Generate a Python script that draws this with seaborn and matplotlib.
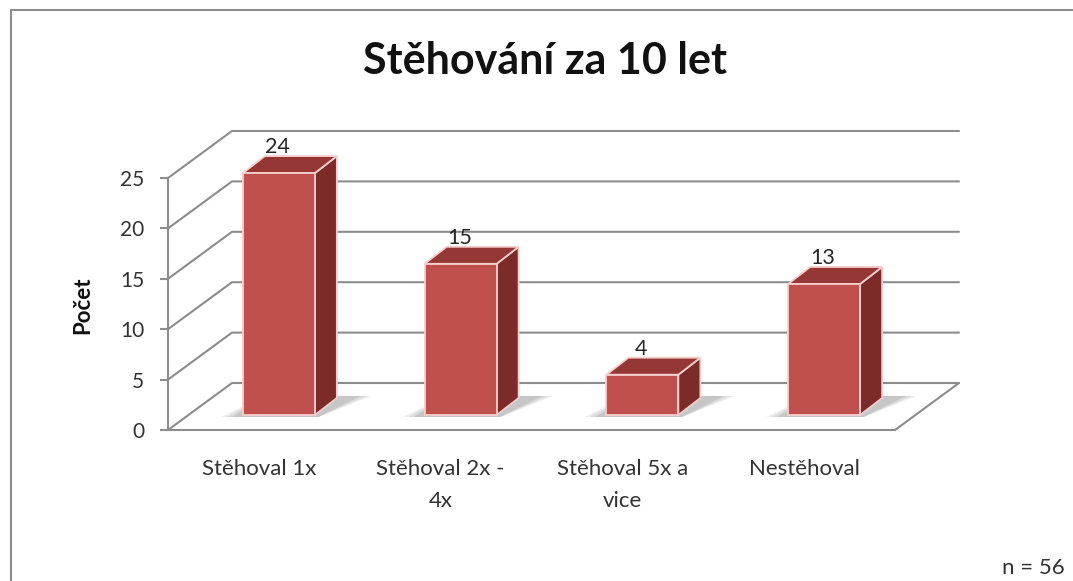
import matplotlib
matplotlib.use("Agg")
import matplotlib.pyplot as plt
import matplotlib.transforms as mtransforms
from matplotlib.patches import Polygon
from matplotlib.lines import Line2D
import seaborn as sns
import pandas as pd

# data
categories = ["Stěhoval 1x", "Stěhoval 2x -\n4x", "Stěhoval 5x a\nvice", "Nestěhoval"]
counts = [24, 15, 4, 13]
yticks = [0, 5, 10, 15, 20, 25]
title = "Stěhování za 10 let"
ylabel = "Počet"
note = "n = 56"

df = pd.DataFrame({"kategorie": categories, "pocet": counts})

sns.set_theme(style="white")
plt.rcParams["font.family"] = ["Lato", "DejaVu Sans"]

W, H = 1073, 581
fig = plt.figure(figsize=(W / 100, H / 100), dpi=100)
fig.patch.set_facecolor("white")

# outer frame (only left/top edges visible in the crop)
fig.add_artist(Line2D([11 / W, 11 / W, 1.0], [0.0, 1 - 10 / H, 1 - 10 / H],
                      transform=fig.transFigure, color="#8c8c8c", linewidth=1.5))

# front plane of the 3D box
ax = fig.add_axes([168 / W, (H - 430) / H, 727 / W, 252 / H])
ax.set_facecolor("none")

bar_w = 72 / (727 / 4)
sns.barplot(data=df, x="kategorie", y="pocet", ax=ax, color="#C0504D", width=bar_w,
            edgecolor="#f6cfcd", linewidth=1.3, saturation=1, zorder=3)
ax.set_xlim(-0.5, 3.5)
ax.set_ylim(0, 25)

px_cat = 727 / 4
px_val = 252 / 25
grid_col = "#8c8c8c"

# depth of the box and of the bars (in data units)
D_cat, D_val = 64 / px_cat, 47 / px_val
d_cat, d_val = 22 / px_cat, 17 / px_val

# bars sit in the middle of the depth
bar_tr = mtransforms.offset_copy(ax.transData, fig=fig, x=20, y=15, units="dots")

# walls: side wall diagonals + back wall gridlines
for v in yticks:
    ax.plot([-0.5, -0.5 + D_cat, 3.5 + D_cat], [v, v + D_val, v + D_val],
            color=grid_col, lw=1.5, clip_on=False, zorder=0.5)
# floor right edge
ax.plot([3.5, 3.5 + D_cat], [0, D_val], color=grid_col, lw=1.5, clip_on=False, zorder=0.5)

for p in ax.patches:
    x0 = p.get_x()
    x1 = x0 + p.get_width()
    h = p.get_height()
    p.set_transform(bar_tr)
    p.set_clip_on(False)
    # soft shadow on the floor
    for k, a in enumerate([0.18, 0.22, 0.3]):
        g = 0.09 - 0.03 * k
        sh = Polygon([(x0 - g - 0.03, -0.2), (x1 + 0.02, -0.2),
                      (x1 + d_cat + g + 0.1, d_val + 0.2), (x0 + d_cat, d_val + 0.2)],
                     closed=True, facecolor="#9a9a9a", edgecolor="none", alpha=a,
                     transform=bar_tr, clip_on=False, zorder=1)
        ax.add_patch(sh)
    side = Polygon([(x1, 0), (x1 + d_cat, d_val), (x1 + d_cat, h + d_val), (x1, h)],
                   closed=True, facecolor="#7c2b29", edgecolor="#f6cfcd", linewidth=1.3,
                   transform=bar_tr, clip_on=False, zorder=2.9)
    top = Polygon([(x0, h), (x1, h), (x1 + d_cat, h + d_val), (x0 + d_cat, h + d_val)],
                  closed=True, facecolor="#953735", edgecolor="#f6cfcd", linewidth=1.3,
                  transform=bar_tr, clip_on=False, zorder=2.9)
    ax.add_patch(side)
    ax.add_patch(top)
    ax.annotate(f"{h:.0f}", xy=((x0 + x1) / 2, h), xycoords=bar_tr,
                xytext=(-1, 20), textcoords="offset pixels", ha="center", va="baseline",
                fontsize=15.5, color="#262626", zorder=6, annotation_clip=False)

# axes styling
for s in ["top", "right"]:
    ax.spines[s].set_visible(False)
for s in ["left", "bottom"]:
    ax.spines[s].set_color(grid_col)
    ax.spines[s].set_linewidth(1.5)
ax.set_yticks(yticks)
ax.tick_params(axis="y", direction="out", length=6, width=1.5, color=grid_col,
               labelsize=15, labelcolor="#333333", pad=11, left=True)
ax.tick_params(axis="x", length=0, labelsize=16, labelcolor="#333333", pad=21)
for t in ax.get_xticklabels():
    t.set_linespacing(1.75)
ax.set_xlabel("")
ax.set_ylabel(ylabel, fontsize=16, fontweight="bold", color="#111111")
ax.yaxis.set_label_coords((93 - 168) / 727, (430 - 305) / 252)

fig.text(545 / W, 1 - 61 / H, title, ha="center", va="center", fontsize=31,
         fontweight="bold", color="#111111")
fig.text(1065 / W, 1 - 568 / H, note, ha="right", va="center", fontsize=16, color="#333333")

fig.savefig("out.png", dpi=100, facecolor="white")
